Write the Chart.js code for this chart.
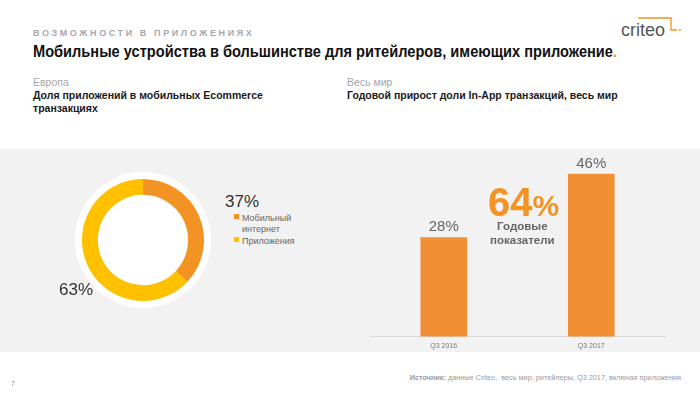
<!DOCTYPE html>
<html>
<head>
<meta charset="utf-8">
<script src="https://cdn.jsdelivr.net/npm/chart.js@4"></script>
<style>
  body { margin: 0; width: 700px; height: 393px; background: #fff; position: relative; overflow: hidden;
         font-family: 'Liberation Sans', Arial, sans-serif; }
  .abs { position: absolute; white-space: nowrap; }
  .kicker { left: 33px; top: 28px; font-size: 9px; letter-spacing: 2.6px; color: #a6a6ad; font-weight: bold; }
  .title { left: 33px; top: 42px; font-size: 16.5px; font-weight: bold; color: #111;
           transform: scaleX(0.885); transform-origin: left top; }
  .title span { color: #f39324; }
  .sub { font-size: 10.5px; color: #a6a6a6; }
  .subb { font-size: 10.5px; color: #1a1a1a; font-weight: bold; line-height: 13px; }
  .band { left: 0; top: 149px; width: 700px; height: 203px; background: #f2f2f2; }
  .halo { left: 75px; top: 172px; width: 136px; height: 136px; border-radius: 50%; background: #fff; }
  .pct { font-size: 17px; color: #333; }
  .leg { font-size: 9px; color: #666; line-height: 11px; }
  .sq { display: inline-block; width: 5px; height: 5px; margin-right: 3px; vertical-align: 2px; }
  .big { left: 488px; top: 180px; font-size: 40px; font-weight: bold; color: #f39324; }
  .big small { font-size: 30px; }
  .yr { left: 490px; top: 219px; font-size: 11.5px; font-weight: bold; color: #666; line-height: 14px; text-align: center; }
  .src { right: 17px; top: 373px; font-size: 7.3px; color: #9a9a9a; }
  .page { left: 11px; top: 380px; font-size: 7px; color: #999; }
  canvas { position: absolute; }
</style>
</head>
<body>
<div class="abs kicker">ВОЗМОЖНОСТИ В ПРИЛОЖЕНИЯХ</div>
<div class="abs title">Мобильные устройства в большинстве для ритейлеров, имеющих приложение<span>.</span></div>
<div class="abs sub" style="left:33px;top:76px">Европа</div>
<div class="abs subb" style="left:33px;top:89px">Доля приложений в мобильных Ecommerce<br>транзакциях</div>
<div class="abs sub" style="left:347px;top:76px">Весь мир</div>
<div class="abs subb" style="left:347px;top:89px">Годовой прирост доли In-App транзакций, весь мир</div>

<svg class="abs" style="left:618px;top:14px" width="70" height="28">
  <text x="3" y="22" font-family="Liberation Sans, Arial" font-size="18" fill="#555">criteo</text>
  <polyline points="20,4 53,4 53,16 59,16" fill="none" stroke="#f39324" stroke-width="1.3"/>
  <circle cx="62" cy="16" r="1" fill="#f39324"/>
</svg>

<div class="abs band"></div>
<div class="abs halo"></div>

<canvas id="pieChart" width="150" height="150" style="left:68px;top:165px;width:150px;height:150px"></canvas>
<div class="abs pct" style="left:225px;top:192px">37%</div>
<div class="abs pct" style="left:59px;top:280px">63%</div>
<div class="abs leg" style="left:234px;top:213px"><span class="sq" style="background:#f39324"></span>Мобильный<br><span style="padding-left:8px">интернет</span></div>
<div class="abs leg" style="left:234px;top:236px"><span class="sq" style="background:#ffc000"></span>Приложения</div>

<canvas id="barChart" width="310" height="205" style="left:362px;top:150px;width:310px;height:205px"></canvas>
<div class="abs big">64<small>%</small></div>
<div class="abs yr">Годовые<br>показатели</div>

<div class="abs src"><b>Источник:</b> данные Criteo,&nbsp; весь мир, ритейлеры, Q3 2017, включая приложения.</div>
<div class="abs page">7</div>

<script>
const shareLabels = ['Мобильный интернет', 'Приложения'];
const shareValues = [37, 63];
const shareColors = ['#f39324', '#ffc000'];

const quarterLabels = ['Q3 2016', 'Q3 2017'];
const inAppValues = [28, 46];

Chart.defaults.font.family = "'Liberation Sans', Arial, sans-serif";

new Chart(document.getElementById('pieChart'), {
  type: 'doughnut',
  data: {
    labels: shareLabels,
    datasets: [{ data: shareValues, backgroundColor: shareColors, borderWidth: 0 }],
  },
  options: {
    responsive: false,
    animation: false,
    radius: 61,
    cutout: '74%',
    plugins: { legend: { display: false }, tooltip: { enabled: false } },
  },
});

// value labels above bars
const barValues = {
  id: 'barValues',
  afterDatasetsDraw(chart) {
    const c = chart.ctx;
    c.save();
    c.font = "15px 'Liberation Sans', Arial, sans-serif";
    c.fillStyle = '#666';
    c.textAlign = 'center';
    c.textBaseline = 'bottom';
    chart.getDatasetMeta(0).data.forEach((bar, i) => {
      c.fillText(inAppValues[i] + '%', bar.x, bar.y - 3);
    });
    c.restore();
  },
};

new Chart(document.getElementById('barChart'), {
  type: 'bar',
  data: {
    labels: quarterLabels,
    datasets: [{
      data: inAppValues,
      backgroundColor: '#f28e33',
      borderWidth: 0,
      barThickness: 46,
    }],
  },
  options: {
    responsive: false,
    animation: false,
    layout: { padding: { left: 8, right: 7, top: 10 } },
    plugins: { legend: { display: false }, tooltip: { enabled: false } },
    scales: {
      x: {
        grid: { display: false, drawTicks: false },
        border: { color: '#d9d9d9' },
        ticks: { color: '#777', font: { size: 7 }, padding: 5 },
      },
      y: { display: false, min: 0, max: 50 },
    },
  },
  plugins: [barValues],
});
</script>
</body>
</html>
